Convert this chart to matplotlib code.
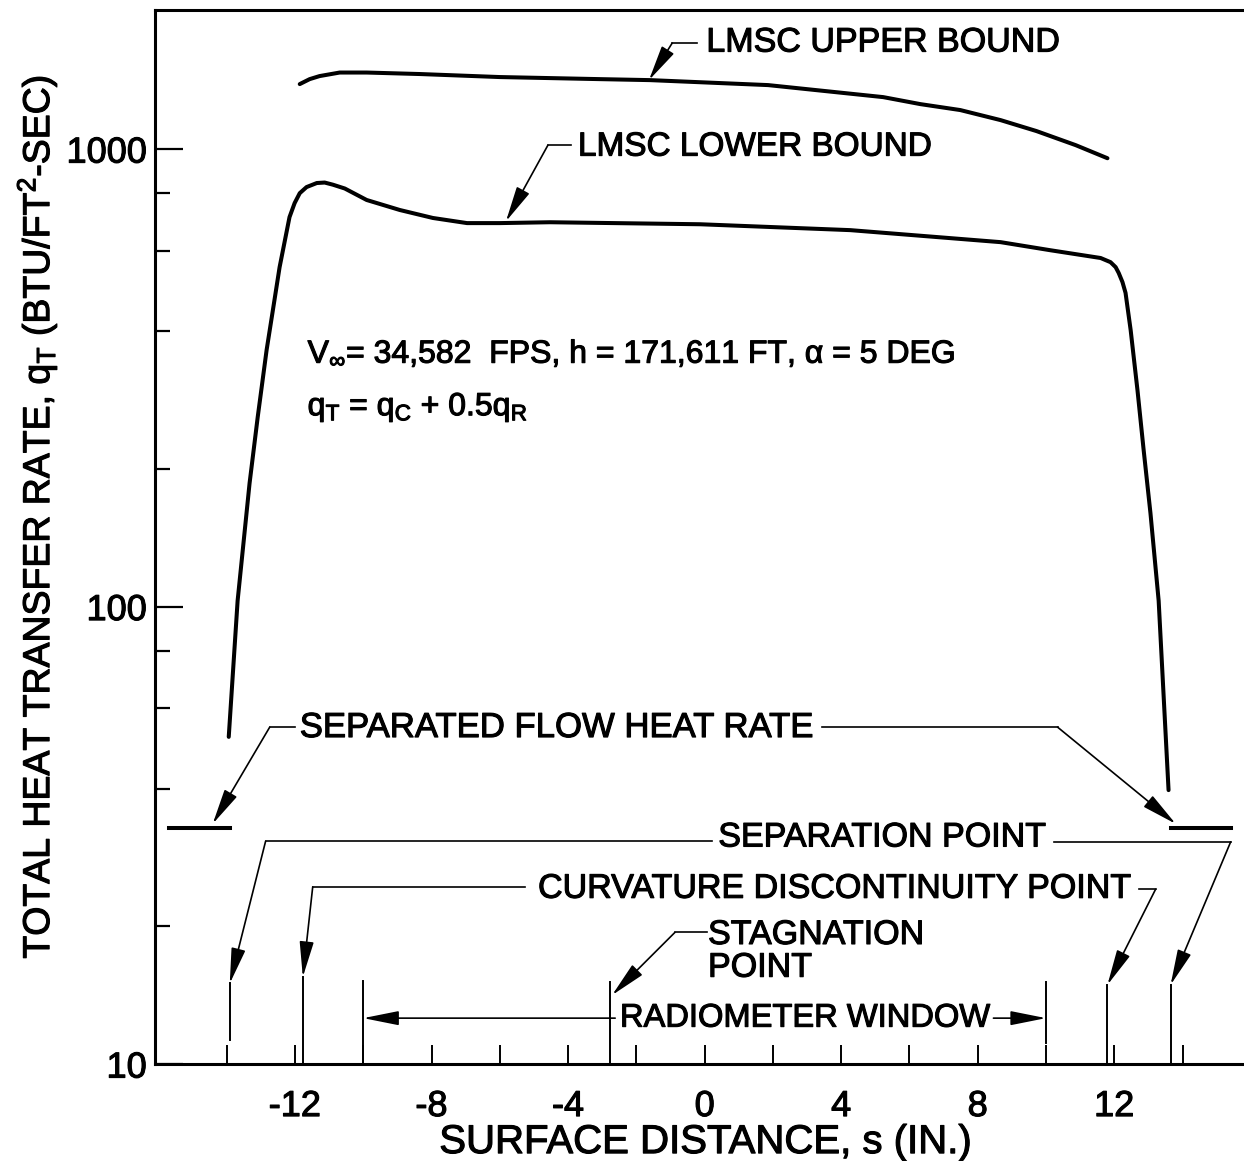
import numpy as np
import matplotlib
matplotlib.use("Agg")
import matplotlib.pyplot as plt
from matplotlib import font_manager
import matplotlib.patheffects as pe

# Curvas: s en pulgadas, q en BTU/ft2-s
upper_s = [-11.86, -11.57, -11.28, -10.69, -9.90, -8.34, -6.0, -3.06, -1.60, 1.86, 5.23,
           6.32, 7.49, 8.67, 9.72, 10.87, 11.80]
upper_q = [1387, 1422, 1444, 1470, 1470, 1459, 1437, 1422, 1415, 1380, 1299,
           1254, 1217, 1157, 1095, 1020, 955]

lower_s = [-13.94, -13.68, -13.33, -13.09, -12.83, -12.60, -12.45, -12.16, -12.01, -11.86,
           -11.66, -11.36, -11.13, -10.89, -10.54, -9.90, -8.93, -7.96, -6.96, -6.0, -4.53,
           -0.13, 4.27, 8.67, 10.13, 11.60, 11.89, 12.04, 12.13, 12.24, 12.33, 12.48,
           12.68, 12.86, 13.06, 13.30, 13.59]
lower_q = [51.9, 103, 186, 260, 364, 468, 552, 710, 762, 801,
           826, 843, 845, 836, 820, 774, 736, 707, 689, 689, 692,
           685, 665, 626, 601, 578, 566, 552, 536, 512, 485, 402,
           297, 220, 160, 103, 39.7]

# Tasa de flujo separado (tramos horizontales)
sep_left_s = [-15.70, -13.89]
sep_right_s = [13.65, 15.41]
sep_q = 32.8

# Puntos marcados en el eje: posicion, tope y base de la linea vertical
mark_s = [-13.91, -11.77, -10.0, -2.77, 10.0, 11.80, 13.65]
mark_top = [15.0, 15.5, 15.2, 15.1, 15.1, 14.9, 14.9]
mark_bot = [11.3, 10.0, 10.0, 10.0, 11.1, 10.0, 10.0]

x_ticks = [-14, -12, -10, -8, -6, -4, -2, 0, 2, 4, 6, 8, 10, 12, 14]
x_labels = ['', '-12', '', '-8', '', '-4', '', '0', '', '4', '', '8', '', '12', '']
y_ticks = [10, 100, 1000]
y_labels = ['10', '100', '1000']
y_minor = [20, 40, 60, 80, 200, 400, 600, 800]

# Fuente: condensada si existe
names = {f.name for f in font_manager.fontManager.ttflist}
if 'Liberation Sans Narrow' in names:
    fam = 'Liberation Sans Narrow'
    fs = 29
else:
    fam = 'Liberation Sans'
    fs = 24.5
plt.rcParams['font.family'] = [fam, 'DejaVu Sans']
plt.rcParams['mathtext.fontset'] = 'custom'
plt.rcParams['mathtext.rm'] = fam
plt.rcParams['mathtext.it'] = fam
plt.rcParams['mathtext.bf'] = fam

# trazo un poco mas grueso para las letras
grueso = [pe.withStroke(linewidth=0.8, foreground='k')]

fig = plt.figure(figsize=(12.44, 11.61), dpi=100)
ax = fig.add_axes([0.1246, 0.0835, 0.8754, 0.9079])

ax.plot(upper_s, upper_q, 'k', lw=2.9, solid_capstyle='round', solid_joinstyle='round')
ax.plot(lower_s, lower_q, 'k', lw=2.9, solid_capstyle='round', solid_joinstyle='round')
ax.plot(sep_left_s, [sep_q, sep_q], 'k', lw=2.9)
ax.plot(sep_right_s, [sep_q, sep_q], 'k', lw=2.9)
for s, t, b in zip(mark_s, mark_top, mark_bot):
    ax.plot([s, s], [b, t], 'k', lw=1.4)

ax.set_yscale('log')
ax.set_xlim(-16.1, 15.8)
ax.set_ylim(10, 2014)

ax.set_xticks(x_ticks)
ax.set_xticklabels(x_labels, fontsize=26, family='Liberation Sans')
ax.set_yticks(y_ticks)
ax.set_yticklabels(y_labels, fontsize=26, family='Liberation Sans')
ax.set_yticks(y_minor, minor=True)
ax.yaxis.set_minor_formatter(matplotlib.ticker.NullFormatter())
ax.tick_params(axis='x', direction='in', length=14, width=1.4, pad=18)
ax.tick_params(axis='y', which='major', direction='in', length=20, width=1.6, pad=6)
ax.tick_params(axis='y', which='minor', direction='in', length=11, width=1.6)
for lab in ax.get_xticklabels() + ax.get_yticklabels():
    lab.set_path_effects(grueso)

for side in ['left', 'bottom', 'top']:
    ax.spines[side].set_linewidth(2.2)
ax.spines['right'].set_visible(False)

ax.set_xlabel('SURFACE DISTANCE, s (IN.)', fontsize=fs * 1.18, path_effects=grueso)
ax.xaxis.set_label_coords(0.505, -0.056)
ax.set_ylabel('TOTAL HEAT TRANSFER RATE, q$_\\mathregular{T}$ (BTU/FT$^\\mathregular{2}$-SEC)',
              fontsize=fs * 1.1, path_effects=grueso)
ax.yaxis.set_label_coords(-0.088, 0.5185)

# Textos
def txt(s, q, t, size=fs):
    ax.text(s, q, t, ha='left', va='center', fontsize=size, path_effects=grueso)

txt(0.05, 1705, 'LMSC UPPER BOUND')
txt(-3.71, 1010, 'LMSC LOWER BOUND', size=fs * 0.98)
txt(-11.63, 355, 'V$_\\infty$= 34,582  FPS, h = 171,611 FT, \u03b1 = 5 DEG', size=fs * 0.94)
txt(-11.63, 272, 'q$_\\mathregular{T}$ = q$_\\mathregular{C}$ + 0.5q$_\\mathregular{R}$', size=fs * 0.94)
txt(-11.86, 54.4, 'SEPARATED FLOW HEAT RATE', size=fs * 1.02)
txt(0.40, 31.2, 'SEPARATION POINT')
txt(-4.88, 24.1, 'CURVATURE DISCONTINUITY POINT')
txt(0.10, 19.1, 'STAGNATION')
txt(0.10, 16.2, 'POINT')
txt(-2.48, 12.6, 'RADIOMETER WINDOW', size=fs * 0.96)

# Lineas guia: hombro horizontal + flecha
arrow = dict(arrowstyle='-|>,head_length=1.1,head_width=0.22', color='k', lw=1.2,
             shrinkA=0, shrinkB=0, mutation_scale=20)
leaders = [
    ((-0.22, 1705), (-0.95, 1705), (-1.63, 1415)),
    ((-3.92, 1020), (-4.59, 1020), (-5.82, 695)),
    ((-12.01, 54.5), (-12.74, 54.5), (-14.41, 33.5)),
    ((3.45, 54.5), (10.34, 54.5), (13.80, 33.5)),
    ((0.22, 30.7), (-12.86, 30.7), (-13.91, 15.0)),
    ((10.22, 30.6), (15.41, 30.6), (13.65, 14.9)),
    ((-5.26, 24.4), (-11.48, 24.4), (-11.77, 15.5)),
    ((12.71, 24.1), (13.21, 24.1), (11.80, 14.9)),
    ((0.07, 19.4), (-0.87, 19.4), (-2.71, 14.15)),
]
for p0, p1, tip in leaders:
    ax.plot([p0[0], p1[0]], [p0[1], p1[1]], 'k', lw=1.2)
    ax.annotate('', xy=tip, xytext=p1, arrowprops=arrow)

ax.annotate('', xy=(-10.0, 12.6), xytext=(-2.62, 12.6), arrowprops=arrow)
ax.annotate('', xy=(10.0, 12.6), xytext=(8.46, 12.6), arrowprops=arrow)

fig.savefig('out.png', dpi=100)
